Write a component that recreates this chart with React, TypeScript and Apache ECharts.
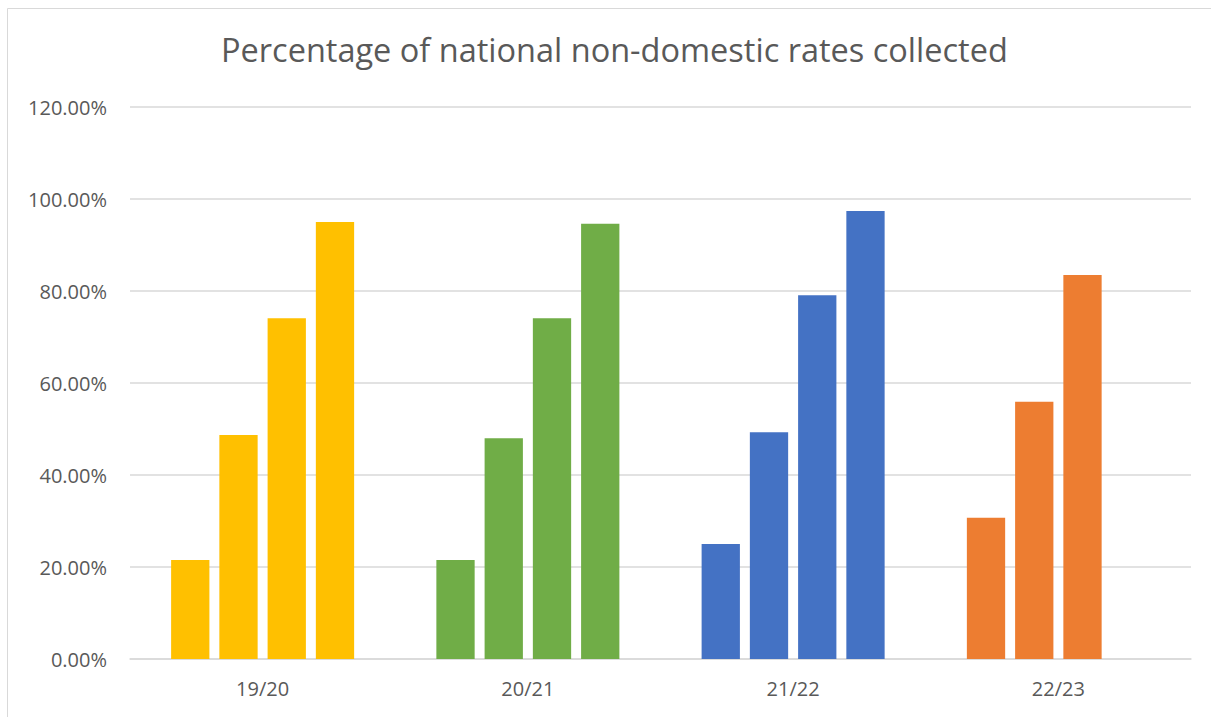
import React, { useEffect, useRef } from "react";
import * as echarts from "echarts";

const categories = ["19/20", "20/21", "21/22", "22/23"];
const categoryColors = ["#FFC000", "#70AD47", "#4472C4", "#ED7D31"];
// Each series = n-th bar within each year group (fraction of total)
const bar1 = [0.215, 0.215, 0.25, 0.307];
const bar2 = [0.487, 0.48, 0.493, 0.559];
const bar3 = [0.741, 0.741, 0.791, 0.835];
const bar4 = [0.95, 0.946, 0.974, null];
const yTicks = { min: 0, max: 1.2, interval: 0.2 };
const titleText = "Percentage of national non-domestic rates collected";

export default function App() {
  const ref = useRef<HTMLDivElement>(null);
  useEffect(() => {
    if (!ref.current) return;
    const chart = echarts.init(ref.current, undefined, { renderer: "svg" });
    const mk = (arr: (number | null)[], name: string) => ({
      type: "bar",
      name,
      barGap: "26%",
      barCategoryGap: "31%",
      data: arr.map((v, i) => ({ value: v, itemStyle: { color: categoryColors[i] } })),
    });
    chart.setOption({
      animation: false,
      backgroundColor: "#ffffff",
      title: {
        text: titleText,
        left: 216,
        top: 28,
        textStyle: { fontFamily: "Open Sans", fontSize: 32.5, fontWeight: "normal", color: "#595959" },
      },
      graphic: [
        {
          type: "rect",
          shape: { x: 7.5, y: 8.5, width: 1210, height: 715 },
          style: { fill: "none", stroke: "#d9d9d9", lineWidth: 1 },
          silent: true,
        },
      ],
      grid: { left: 130, right: 20, top: 107, bottom: 58 },
      xAxis: {
        type: "category",
        data: categories,
        axisLine: { lineStyle: { color: "#d9d9d9", width: 1.5 } },
        axisTick: { show: false },
        axisLabel: { color: "#595959", fontSize: 20, fontFamily: "Open Sans", margin: 19 },
      },
      yAxis: {
        type: "value",
        min: yTicks.min,
        max: yTicks.max,
        interval: yTicks.interval,
        axisLine: { show: false },
        axisTick: { show: false },
        splitLine: { lineStyle: { color: "#d9d9d9", width: 1.5 } },
        axisLabel: {
          color: "#595959",
          fontSize: 20,
          fontFamily: "Open Sans",
          margin: 23,
          formatter: (v: number) => (v * 100).toFixed(2) + "%",
        },
      },
      series: [mk(bar1, "b1"), mk(bar2, "b2"), mk(bar3, "b3"), mk(bar4, "b4")],
    });
    return () => chart.dispose();
  }, []);
  return (
    <div
      ref={ref}
      style={{ position: "fixed", left: 0, top: 0, width: 1211, height: 717 }}
    />
  );
}
